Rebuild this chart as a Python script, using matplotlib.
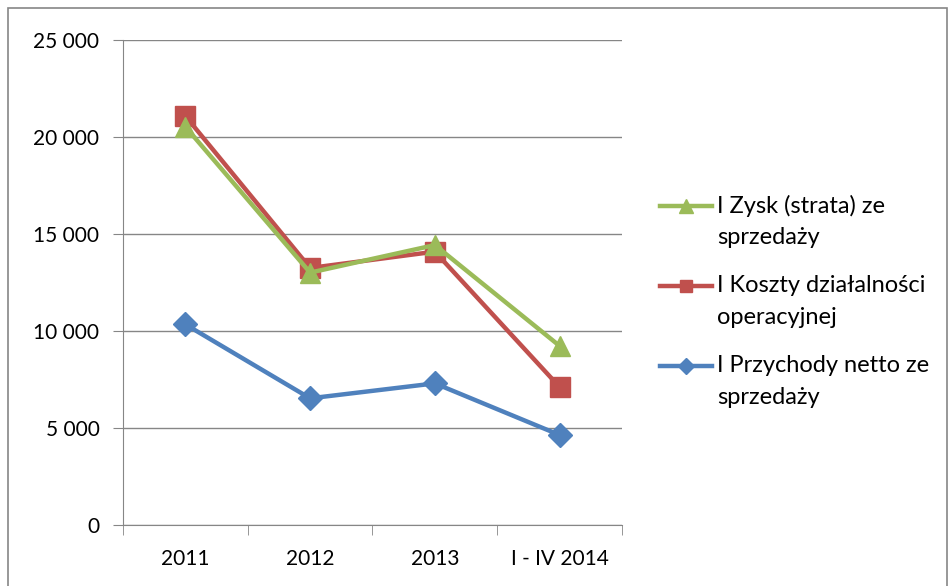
import matplotlib.pyplot as plt
from matplotlib.lines import Line2D
from matplotlib.patches import Rectangle
from matplotlib.ticker import FuncFormatter

categories = ['2011', '2012', '2013', 'I - IV 2014']
przychody = [10340, 6530, 7300, 4640]
koszty = [21080, 13250, 14090, 7110]
zysk = [20530, 13010, 14430, 9230]

labels = [['I Zysk (strata) ze', 'sprzedaży'],
          ['I Koszty działalności', 'operacyjnej'],
          ['I Przychody netto ze', 'sprzedaży']]

plt.rcParams['font.family'] = ['Lato', 'DejaVu Sans']

W, H = 953, 586
fig = plt.figure(figsize=(W / 100, H / 100), dpi=100)
ax = fig.add_axes([123 / W, 1 - 525 / H, (622 - 123) / W, (525 - 40) / H])

x = range(len(categories))
l_p, = ax.plot(x, przychody, color='#4F81BD', lw=3.2, marker='D', ms=12, zorder=3)
l_k, = ax.plot(x, koszty, color='#C0504D', lw=3.2, marker='s', ms=14, zorder=4)
l_z, = ax.plot(x, zysk, color='#9BBB59', lw=3.2, marker='^', ms=15, zorder=5)

ax.set_xlim(-0.5, 3.5)
ax.set_ylim(0, 25000)
ax.set_yticks(range(0, 25001, 5000))
ax.yaxis.set_major_formatter(FuncFormatter(lambda v, p: f'{int(v):,}'.replace(',', ' ')))
ax.set_xticks(list(x))
ax.set_xticklabels(categories)
ax.set_xticks([-0.5, 0.5, 1.5, 2.5, 3.5], minor=True)
ax.tick_params(axis='x', which='major', length=0, pad=17, labelsize=15, colors='#000000')
ax.tick_params(axis='x', which='minor', length=7, color='#868686', direction='out')
ax.tick_params(axis='y', length=7, color='#868686', pad=10, labelsize=15)
ax.grid(axis='y', color='#868686', lw=1)
ax.set_axisbelow(True)
for s in ['top', 'right']:
    ax.spines[s].set_visible(False)
for s in ['left', 'bottom']:
    ax.spines[s].set_color('#868686')

# legend drawn by hand so the key sits on the first text line, like Excel does
for i, (src, lab) in enumerate(zip([l_z, l_k, l_p], labels)):
    yc = 1 - (206 + 80 * i) / H
    fig.add_artist(Line2D([660 / W, 712 / W], [yc, yc], transform=fig.transFigure,
                          color=src.get_color(), lw=3.2))
    fig.add_artist(Line2D([686 / W], [yc], transform=fig.transFigure, ls='none',
                          marker=src.get_marker(), ms=src.get_markersize() * 0.65,
                          color=src.get_color()))
    for j, txt in enumerate(lab):
        fig.text(717 / W, yc - j * 32 / H, txt, fontsize=17, va='center', ha='left')

fig.patches.append(Rectangle((8 / W, -0.05), (947 - 8) / W, 1 - 8 / H + 0.05,
                             transform=fig.transFigure, fill=False, ec='#868686', lw=1.2))

fig.savefig('out.png', dpi=100)
